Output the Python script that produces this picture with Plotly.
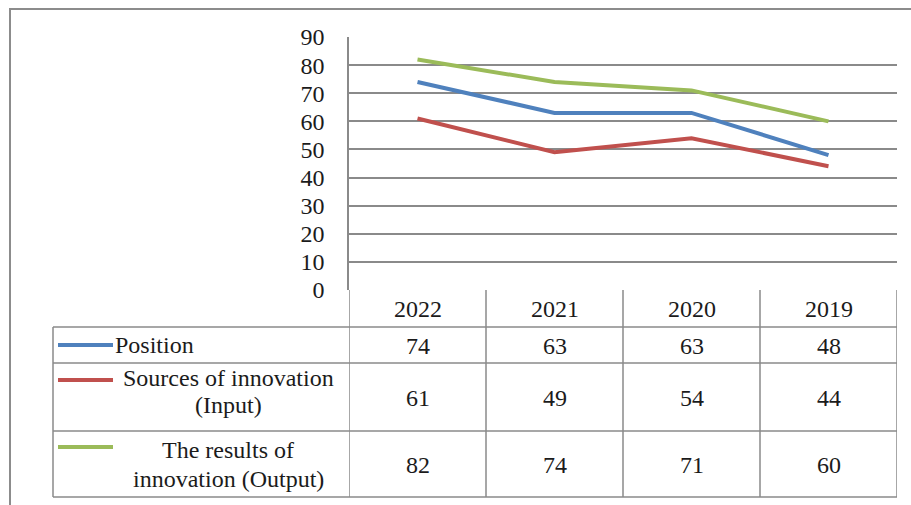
import plotly.graph_objects as go

# ---- data ----
years = ["2022", "2021", "2020", "2019"]
series_names = ["Position", "Sources of innovation (Input)", "The results of innovation (Output)"]
position = [74, 63, 63, 48]
sources_input = [61, 49, 54, 44]
results_output = [82, 74, 71, 60]
series_values = [position, sources_input, results_output]
series_colors = ["#4F81BD", "#C0504D", "#9BBB59"]
# legend-cell text, one entry per line
row_label_lines = [["Position"], ["Sources of innovation", "(Input)"], ["The results of", "innovation (Output)"]]
y_ticks = list(range(0, 91, 10))

# ---- canvas geometry (pixels) ----
W, H = 911, 505
PL, PR, PT, PB = 349, 897, 37, 290  # plot area edges


def px_x(p):
    return (p - PL) / (PR - PL)


def px_y(p):
    return (PB - p) / (PB - PT)


FONT = "'Times New Roman', Tinos, 'Liberation Serif', 'DejaVu Serif', 'Noto Serif', serif"
TXT = "#1b1b1b"
GRID = "#8a8a8a"
FS = 24

fig = go.Figure()
idx = list(range(len(years)))
for name, vals, col in zip(series_names, series_values, series_colors):
    fig.add_trace(go.Scatter(x=idx, y=vals, mode="lines", name=name,
                             line=dict(color=col, width=4), showlegend=False))

shapes = []
annotations = []

# outer frame
shapes.append(dict(type="rect", xref="paper", yref="paper",
                   x0=px_x(10), x1=px_x(912), y0=px_y(9), y1=px_y(506),
                   line=dict(color="#8c8c8c", width=2)))

# data-table rows (pixel boundaries)
header_bottom = 327
row_bounds = [327, 363, 431, 497]
row_text_y = [346, 398, 465]
label_left = 53
line_style = dict(color=GRID, width=1.5)

# horizontal table lines
for yb in row_bounds:
    shapes.append(dict(type="line", xref="paper", yref="paper",
                       x0=px_x(label_left), x1=px_x(PR), y0=px_y(yb), y1=px_y(yb),
                       line=line_style))
# left border of the label column
shapes.append(dict(type="line", xref="paper", yref="paper",
                   x0=px_x(label_left), x1=px_x(label_left),
                   y0=px_y(header_bottom), y1=px_y(row_bounds[-1]), line=line_style))
# column boundaries follow the category axis
for i in range(len(years) + 1):
    shapes.append(dict(type="line", xref="x", yref="paper",
                       x0=i - 0.5, x1=i - 0.5, y0=px_y(PB), y1=px_y(row_bounds[-1]),
                       line=line_style))

# header: years
for i, yr in enumerate(years):
    annotations.append(dict(x=i, xref="x", y=px_y(309), yref="paper", text=yr,
                            showarrow=False, font=dict(family=FONT, size=FS, color=TXT),
                            xanchor="center", yanchor="middle"))

# values per row
for r, vals in enumerate(series_values):
    for i, v in enumerate(vals):
        annotations.append(dict(x=i, xref="x", y=px_y(row_text_y[r]), yref="paper",
                                text=str(v), showarrow=False,
                                font=dict(family=FONT, size=FS, color=TXT),
                                xanchor="center", yanchor="middle"))

# legend keys and labels in the first column
key_y = [345, 380, 447]
label_line_y = [[345], [378, 405], [450, 479]]
for r, col in enumerate(series_colors):
    shapes.append(dict(type="line", xref="paper", yref="paper",
                       x0=px_x(58), x1=px_x(113), y0=px_y(key_y[r]), y1=px_y(key_y[r]),
                       line=dict(color=col, width=4)))
    for text, ly in zip(row_label_lines[r], label_line_y[r]):
        if r == 0:
            ax, anchor = px_x(113), "left"
        else:
            ax, anchor = px_x(228), "center"
        annotations.append(dict(x=ax, xref="paper", y=px_y(ly), yref="paper", text=text,
                                showarrow=False, font=dict(family=FONT, size=FS, color=TXT),
                                xanchor=anchor, yanchor="middle"))

fig.update_layout(
    width=W, height=H,
    margin=dict(l=PL, r=W - PR, t=PT, b=H - PB, pad=0),
    paper_bgcolor="white", plot_bgcolor="white",
    font=dict(family=FONT, size=FS, color=TXT),
    shapes=shapes, annotations=annotations,
    xaxis=dict(range=[-0.5, len(years) - 0.5], showgrid=False, zeroline=False,
               showticklabels=False, ticks="", showline=False, fixedrange=True),
    yaxis=dict(range=[0, 90], tickvals=y_ticks, showgrid=True, gridcolor=GRID, gridwidth=1.5,
               zeroline=False, showline=True, linecolor=GRID, linewidth=1.5,
               ticks="", ticklabelstandoff=18,
               tickfont=dict(family=FONT, size=FS, color=TXT), fixedrange=True),
)

fig.write_html("out.html")
